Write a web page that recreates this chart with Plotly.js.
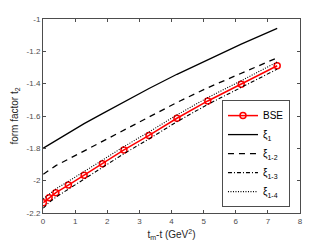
<!DOCTYPE html>
<html><head><meta charset="utf-8">
<script src="https://cdn.plot.ly/plotly-3.0.1.min.js"></script>
<style>html,body{margin:0;padding:0;background:#fff}#c{width:332px;height:249px}</style>
</head><body><div id="c"></div>
<script>
const xs = [0.01,0.19,0.40,0.79,1.28,1.85,2.52,3.30,4.17,5.13,6.17,7.29];
const bse = [-2.136,-2.105,-2.074,-2.027,-1.967,-1.895,-1.81,-1.72,-1.614,-1.507,-1.404,-1.289];
const xi1 = [-1.799,-1.777,-1.752,-1.705,-1.647,-1.585,-1.513,-1.43,-1.342,-1.25,-1.155,-1.058];
const xi12 = [-1.96,-1.934,-1.907,-1.867,-1.816,-1.755,-1.683,-1.606,-1.516,-1.425,-1.338,-1.24];
const xi13 = [-2.17,-2.135,-2.102,-2.053,-1.992,-1.918,-1.833,-1.742,-1.635,-1.528,-1.425,-1.31];
const xi14 = [-2.112,-2.082,-2.051,-2.004,-1.945,-1.873,-1.789,-1.699,-1.593,-1.486,-1.382,-1.266];
const names = ['BSE','ξ<sub>1</sub>','ξ<sub>1-2</sub>','ξ<sub>1-3</sub>','ξ<sub>1-4</sub>'];
const xticks = [0,1,2,3,4,5,6,7,8];
const yticks = [-2.2,-2,-1.8,-1.6,-1.4,-1.2,-1];
const yticklabels = ['-2.2','-2','-1.8','-1.6','-1.4','-1.2','-1'];

const data = [
  {x:xs,y:bse,name:names[0],mode:'lines+markers',line:{color:'#ff0000',width:1.5},
   marker:{symbol:'circle-open',size:6,color:'#ff0000',line:{width:1.5,color:'#ff0000'}}},
  {x:xs,y:xi1,name:names[1],mode:'lines',line:{color:'#000',width:1.3,dash:'solid'}},
  {x:xs,y:xi12,name:names[2],mode:'lines',line:{color:'#000',width:1.3,dash:'6px,5px'}},
  {x:xs,y:xi13,name:names[3],mode:'lines',line:{color:'#000',width:1.1,dash:'4px,2px,1px,2px'}},
  {x:xs,y:xi14,name:names[4],mode:'lines',line:{color:'#000',width:1.1,dash:'1px,1.5px'}}
];
const axcommon = {showgrid:false,zeroline:false,showline:true,mirror:'ticks',linecolor:'#4d4d4d',linewidth:1,
  ticks:'inside',ticklen:3,tickcolor:'#4d4d4d',tickfont:{family:'Liberation Sans, Arial',size:8,color:'#4d4d4d'}};
const layout = {
  width:332,height:249,margin:{l:43,r:32,t:19,b:36},
  paper_bgcolor:'#fff',plot_bgcolor:'#fff',
  font:{family:'Liberation Sans, Arial',color:'#262626'},
  xaxis:Object.assign({},axcommon,{range:[0,8],tickvals:xticks,ticktext:xticks.map(String),
    title:{text:'t<sub>m</sub>-t (GeV<sup>2</sup>)',font:{size:10,color:'#262626'},standoff:6}}),
  yaxis:Object.assign({},axcommon,{range:[-2.2,-1],tickvals:yticks,ticktext:yticklabels,
    title:{text:'form factor t<sub>2</sub>',font:{size:10,color:'#262626'},standoff:6}}),
  showlegend:true,
  legend:{x:0.961,y:0.582,xanchor:'right',yanchor:'top',bgcolor:'#fff',bordercolor:'#4d4d4d',borderwidth:1,
    font:{family:'Liberation Sans, Arial',size:10,color:'#000'},itemwidth:30,tracegroupgap:0}
};
Plotly.newPlot('c',data,layout,{staticPlot:true,displayModeBar:false});
</script></body></html>
